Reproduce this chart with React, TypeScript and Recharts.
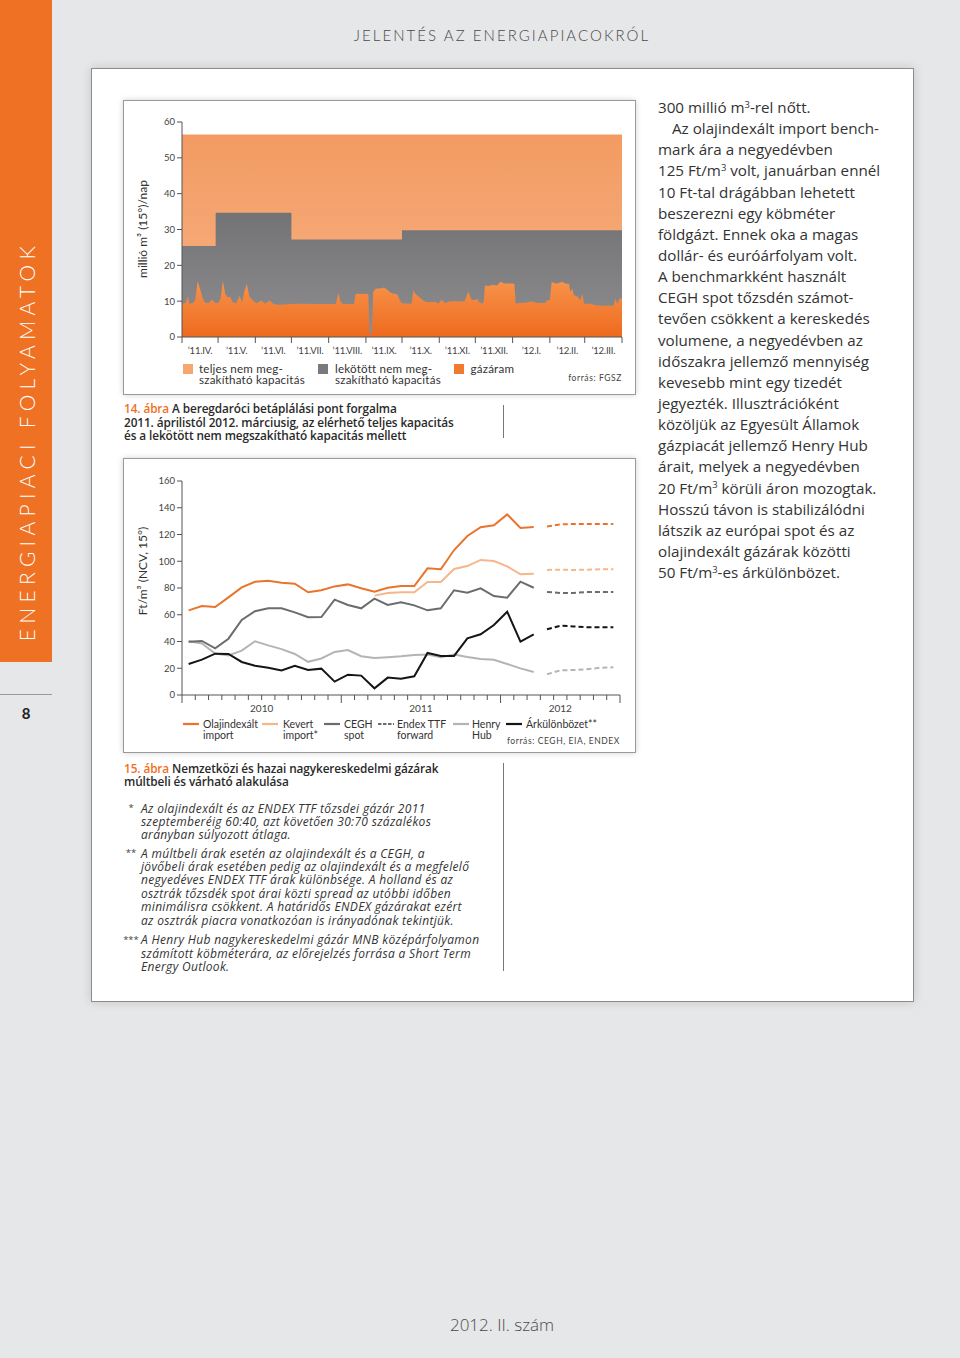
import React from 'react';
import { AreaChart, Area, LineChart, Line, XAxis, YAxis } from 'recharts';

// 14. ábra: Beregdaróc, 2011.IV.1-től (nap), millió m3/nap
const flowDay = [
  0, 3, 5, 6, 9, 11, 13, 15, 17, 19, 22, 25, 27, 30, 32, 34, 36, 38, 40, 42, 45, 48, 50, 52, 54, 56,
  59, 62, 66, 69, 73, 76, 80, 86, 90, 100, 110, 120, 128, 130, 132, 134, 143, 144.5, 155, 156, 158,
  159, 161, 166, 168, 170, 173, 176, 179, 181, 183, 191, 192.5, 194, 197, 200, 203, 211, 213, 216,
  219, 222, 228, 235, 238, 241, 244, 245.5, 247, 250, 251, 252, 255, 258, 262, 265, 268, 275, 276.5,
  277.5, 280, 287, 290, 293, 296, 302, 304, 306, 307.5, 310, 313, 316, 319, 322, 323, 324.5, 326, 329,
  331.5, 333, 334.5, 340, 342.5, 345, 352, 359, 360.5, 362, 364, 366,
];
const flowValue = [
  9.3, 9.5, 11.4, 9.3, 9.5, 10.2, 15.6, 13.5, 11.0, 9.6, 9.4, 10.5, 9.6, 9.4, 10.6, 15.6, 12.0, 11.0,
  11.2, 9.8, 9.4, 11.5, 9.6, 13.0, 14.8, 11.4, 10.2, 9.4, 10.2, 9.3, 10.2, 9.2, 9.0, 9.1, 9.2, 9.3,
  9.2, 9.2, 9.2, 12.3, 9.8, 9.2, 9.2, 12.1, 12.0, 1.0, 1.0, 12.5, 13.5, 13.6, 13.8, 13.4, 12.5, 12.1,
  11.9, 10.3, 9.4, 9.3, 13.0, 12.1, 11.2, 10.3, 9.8, 9.8, 9.3, 10.4, 9.4, 9.9, 10.0, 9.9, 12.6, 10.3,
  10.4, 10.7, 9.8, 9.3, 10.0, 14.4, 14.2, 14.5, 14.4, 15.4, 14.9, 14.9, 14.8, 9.3, 9.5, 9.6, 9.9,
  9.8, 9.5, 9.5, 10.3, 10.2, 15.4, 14.9, 15.0, 15.4, 14.9, 14.8, 12.6, 13.5, 11.7, 11.2, 10.3, 12.1,
  9.3, 9.3, 9.0, 8.8, 8.7, 8.7, 10.7, 9.3, 10.7, 10.8,
];
const bookedStart = [0, 28, 91, 183];
const bookedValue = [25.4, 34.7, 27.2, 29.8];
const totalCapacity = 56.5;
const monthEdges = [0, 30, 61, 91, 122, 153, 183, 214, 244, 275, 306, 335, 366];
const monthLabels = [
  '’11.IV.', '’11.V.', '’11.VI.', '’11.VII.', '’11.VIII.', '’11.IX.',
  '’11.X.', '’11.XI.', '’11.XII.', '’12.I.', '’12.II.', '’12.III.',
];

// 15. ábra: havi árak 2010.I – 2012.III, előrejelzés 2012.IV – 2012.IX (Ft/m3)
const olajindexalt = [
  63.3, 66.5, 65.8, 73, 80.5, 84.7, 85.5, 84, 83.2, 76.8, 78.3, 81.2, 82.7, 79.8, 77.3, 80.2, 81.5,
  81.5, 94.7, 94, 108.4, 118.9, 125.4, 126.9, 135, 124.9, 125.6,
];
const kevert = [
  null, null, null, null, null, null, null, null, null, null, null, null, null, null,
  74.3, 76.3, 76.8, 76.8, 84.5, 84.5, 94.2, 96.4, 101, 100.2, 96.2, 90.2, 90.7,
];
const cegh = [
  39.9, 40.4, 34.9, 42.1, 56.1, 62.6, 64.8, 64.8, 61.8, 58.1, 58.3, 71.3, 67.3, 64.8, 72, 67.3, 69.3,
  67, 63.3, 64.8, 78.3, 76.5, 79.8, 74, 72.8, 84.7, 80.2,
];
const henryHub = [
  40.2, 38.5, 31, 29.6, 33.2, 40.2, 37.1, 34.3, 30.7, 24.8, 27.3, 32.2, 33.6, 29, 27.7, 28.2, 28.9,
  29.9, 30.2, 28.2, 30.2, 28.4, 26.9, 26.4, 23.2, 19.9, 17.2,
];
const arkulonbozet = [
  23.2, 26.4, 30.9, 30.7, 24.7, 21.9, 20.4, 18.4, 21.9, 18.7, 19.7, 10, 15.2, 14.5, 5, 13, 12.2, 14,
  31.4, 29.2, 29.2, 42.4, 45.4, 52.3, 62.3, 39.9, 45.4,
];
const olajForecast = [125.9, 127.6, 127.8, 127.8, 127.8, 127.8];
const kevertForecast = [93.5, 93.7, 93.5, 93.7, 94, 94];
const endexForecast = [77, 76.3, 76.3, 77, 77, 77];
const henryForecast = [15.5, 18.4, 18.7, 19.2, 20.4, 20.7];
const arkForecast = [49.1, 51.8, 51.3, 50.6, 50.6, 50.6];
const years = ['2010', '2011', '2012'];
const yearStart = [0, 12, 24];
const monthCount = 33;

// ---- tables built from the arrays ----
const stepAt = (day: number) => {
  let v = bookedValue[0];
  bookedStart.forEach((s, i) => { if (day >= s) v = bookedValue[i]; });
  return v;
};
const areaDays = Array.from(new Set([...flowDay, ...bookedStart, 366])).sort((a, b) => a - b);
const areaData = areaDays.map((d) => {
  const fi = flowDay.indexOf(d);
  return { day: d, total: totalCapacity, booked: stepAt(d), flow: fi >= 0 ? flowValue[fi] : null };
});
const monthMid = monthLabels.map((_, i) => (monthEdges[i] + monthEdges[i + 1]) / 2);
const areaTicks = [...monthEdges, ...monthMid].sort((a, b) => a - b);

const hist = olajindexalt.length;
const priceData = Array.from({ length: monthCount }, (_, i) => ({
  x: i + 0.5,
  olaj: i < hist ? olajindexalt[i] : null,
  kevert: i < hist ? kevert[i] : null,
  cegh: i < hist ? cegh[i] : null,
  henry: i < hist ? henryHub[i] : null,
  ark: i < hist ? arkulonbozet[i] : null,
  olajF: i >= hist ? olajForecast[i - hist] : null,
  kevertF: i >= hist ? kevertForecast[i - hist] : null,
  endexF: i >= hist ? endexForecast[i - hist] : null,
  henryF: i >= hist ? henryForecast[i - hist] : null,
  arkF: i >= hist ? arkForecast[i - hist] : null,
}));
const yearMid = yearStart.map((s, i) => (s + (yearStart[i + 1] ?? monthCount)) / 2);
const priceTicks = Array.from(new Set([...Array.from({ length: monthCount + 1 }, (_, i) => i), ...yearMid])).sort((a, b) => a - b);

const ORANGE = '#EF7123';
const C_OLAJ = '#E8752B';
const C_KEVERT = '#F6B68C';
const C_CEGH = '#6B6C6F';
const C_HENRY = '#B4B4B4';
const C_ARK = '#151515';
const AXIS = '#555';
const FONT = 'Lato, "Open Sans", sans-serif';
const BODY = '"Open Sans", Lato, sans-serif';

const renderAreaTick = (props: any) => {
  const { x, y, payload } = props;
  const v = payload.value;
  if (monthEdges.includes(v)) {
    return <line x1={x} x2={x} y1={y} y2={y + 6} stroke={AXIS} strokeWidth={1} />;
  }
  const m = monthMid.indexOf(v);
  return (
    <text x={x} y={y + 13} textAnchor="middle" dominantBaseline="central" fontSize={9.5} fill="#444" fontFamily={FONT} letterSpacing={-0.2}>
      {monthLabels[m]}
    </text>
  );
};

const renderYearTick = (props: any) => {
  const { x, y, payload } = props;
  const v = payload.value;
  const yi = yearMid.indexOf(v);
  const isEdge = Number.isInteger(v);
  const major = v === 0 || v === monthCount || yearStart.includes(v);
  return (
    <g>
      {isEdge && <line x1={x} x2={x} y1={y} y2={y + (major ? 8 : 5)} stroke={AXIS} strokeWidth={1} />}
      {yi >= 0 && (
        <text x={x} y={y + 13} textAnchor="middle" dominantBaseline="central" fontSize={10} fill="#444" fontFamily={FONT}>
          {years[yi]}
        </text>
      )}
    </g>
  );
};

const Txt = ({ x, y, size = 11, lh, children, style }: any) => {
  const h = lh ?? Math.round(size * 1.3);
  return (
    <div style={{ position: 'absolute', left: x, top: y - h / 2, fontSize: size, lineHeight: `${h}px`, whiteSpace: 'nowrap', ...style }}>
      {children}
    </div>
  );
};

const Sup = ({ children }: any) => (
  <span style={{ fontSize: '0.62em', position: 'relative', top: '-0.55em' }}>{children}</span>
);

const Swatch = ({ x, y, color }: any) => (
  <div style={{ position: 'absolute', left: x, top: y, width: 10, height: 10, background: color }} />
);

const LineSwatch = ({ x, y, color, dashed }: any) => (
  <svg style={{ position: 'absolute', left: x, top: y - 2 }} width={16} height={4}>
    <line x1={0} x2={16} y1={2} y2={2} stroke={color} strokeWidth={2.2} strokeDasharray={dashed ? '3.5 1.5' : undefined} />
  </svg>
);

const RotLabel = ({ x, y, size, children }: any) => (
  <div style={{ position: 'absolute', left: x, top: y - 10, width: 0, height: 20 }}>
    <div style={{ position: 'absolute', left: -90, top: 0, width: 180, textAlign: 'center', fontSize: size, lineHeight: '20px', transform: 'rotate(-90deg)', whiteSpace: 'nowrap', color: '#333' }}>
      {children}
    </div>
  </div>
);

// two-line legend text, first line centred on y
const Legend2 = ({ x, y, size, lh, a, b, ls = 0 }: any) => (
  <div style={{ position: 'absolute', left: x, top: y - lh / 2, fontSize: size, lineHeight: `${lh}px`, whiteSpace: 'nowrap', letterSpacing: ls }}>
    {a}
    {b && <br />}
    {b}
  </div>
);

const rightLines: React.ReactNode[] = [
  <>300 millió m<Sup>3</Sup>-rel nőtt.</>,
  <span style={{ paddingLeft: 14 }}>Az olajindexált import bench-</span>,
  <>mark ára a negyedévben</>,
  <>125 Ft/m<Sup>3</Sup> volt, januárban ennél</>,
  <>10 Ft-tal drágábban lehetett</>,
  <>beszerezni egy köbméter</>,
  <>földgázt. Ennek oka a magas</>,
  <>dollár- és euróárfolyam volt.</>,
  <>A benchmarkként használt</>,
  <>CEGH spot tőzsdén számot-</>,
  <>tevően csökkent a kereskedés</>,
  <>volumene, a negyedévben az</>,
  <>időszakra jellemző mennyiség</>,
  <>kevesebb mint egy tizedét</>,
  <>jegyezték. Illusztrációként</>,
  <>közöljük az Egyesült Államok</>,
  <>gázpiacát jellemző Henry Hub</>,
  <>árait, melyek a negyedévben</>,
  <>20 Ft/m<Sup>3</Sup> körüli áron mozogtak.</>,
  <>Hosszú távon is stabilizálódni</>,
  <>látszik az európai spot és az</>,
  <>olajindexált gázárak közötti</>,
  <>50 Ft/m<Sup>3</Sup>-es árkülönbözet.</>,
];

const footnotes: { mark: string; lines: string[] }[] = [
  {
    mark: '*',
    lines: [
      'Az olajindexált és az ENDEX TTF tőzsdei gázár 2011',
      'szeptemberéig 60:40, azt követően 30:70 százalékos',
      'arányban súlyozott átlaga.',
    ],
  },
  {
    mark: '**',
    lines: [
      'A múltbeli árak esetén az olajindexált és a CEGH, a',
      'jövőbeli árak esetében pedig az olajindexált és a megfelelő',
      'negyedéves ENDEX TTF árak különbsége. A holland és az',
      'osztrák tőzsdék spot árai közti spread az utóbbi időben',
      'minimálisra csökkent. A határidős ENDEX gázárakat ezért',
      'az osztrák piacra vonatkozóan is irányadónak tekintjük.',
    ],
  },
  {
    mark: '***',
    lines: [
      'A Henry Hub nagykereskedelmi gázár MNB középárfolyamon',
      'számított köbméterára, az előrejelzés forrása a Short Term',
      'Energy Outlook.',
    ],
  },
];
const footStarts = [808.3, 853.3, 940];

const boxStyle: React.CSSProperties = {
  position: 'absolute',
  width: 513,
  height: 295,
  boxSizing: 'border-box',
  border: '1px solid #9a9a9a',
  background: '#fff',
  boxShadow: '0 0 6px rgba(0,0,0,0.18)',
};

const capStyle: React.CSSProperties = { fontFamily: BODY, fontWeight: 600, color: '#2a2a2a', letterSpacing: -0.1 };

export default function App() {
  return (
    <div style={{ position: 'absolute', left: 0, top: 0, width: 960, height: 1358, background: '#E6E7E8', overflow: 'hidden', fontFamily: FONT, color: '#333' }}>
      {/* oldalsáv */}
      <div style={{ position: 'absolute', left: 0, top: 0, width: 52, height: 662, background: ORANGE }} />
      <div style={{ position: 'absolute', left: 27 - 240, top: 441 - 14, width: 480, height: 28, lineHeight: '28px', transform: 'rotate(-90deg)', textAlign: 'center', color: '#fff', fontSize: 21, fontWeight: 300, letterSpacing: 5.3, whiteSpace: 'nowrap' }}>
        ENERGIAPIACI FOLYAMATOK
      </div>
      <div style={{ position: 'absolute', left: 0, top: 694, width: 52, height: 1, background: '#9a9a9a' }} />
      <Txt x={0} y={713} size={15} style={{ width: 52, textAlign: 'center', fontWeight: 700, color: '#222' }}>8</Txt>

      <Txt x={0} y={35} size={15} style={{ width: 1004, textAlign: 'center', fontWeight: 300, letterSpacing: 2.05, color: '#4a4a4a' }}>
        JELENTÉS AZ ENERGIAPIACOKRÓL
      </Txt>

      {/* fehér panel */}
      <div style={{ position: 'absolute', left: 91, top: 68, width: 823, height: 934, background: '#fff', boxSizing: 'border-box', border: '1px solid #8c8c8c', boxShadow: '0 0 10px rgba(0,0,0,0.15)' }} />

      {/* 14. ábra */}
      <div style={{ ...boxStyle, left: 123, top: 100 }} />
      <div style={{ position: 'absolute', left: 123, top: 100 }}>
        <AreaChart width={513} height={295} data={areaData} margin={{ top: 22, right: 14, bottom: 38, left: 0 }}>
          <defs>
            <linearGradient id="gTotal" x1="0" y1="0" x2="0" y2="1">
              <stop offset="0%" stopColor="#F39B62" />
              <stop offset="100%" stopColor="#F7B285" />
            </linearGradient>
            <linearGradient id="gBooked" x1="0" y1="0" x2="0" y2="1">
              <stop offset="0%" stopColor="#737375" />
              <stop offset="100%" stopColor="#8E8E90" />
            </linearGradient>
            <linearGradient id="gFlow" x1="0" y1="0" x2="0" y2="1">
              <stop offset="0%" stopColor="#F7934A" />
              <stop offset="100%" stopColor="#EE6A1E" />
            </linearGradient>
          </defs>
          <XAxis
            dataKey="day"
            type="number"
            domain={[0, 366]}
            ticks={areaTicks}
            interval={0}
            allowDataOverflow
            tickSize={0}
            tickMargin={0}
            tickLine={false}
            axisLine={{ stroke: AXIS }}
            tick={renderAreaTick}
            height={20}
          />
          <YAxis
            domain={[0, 60]}
            ticks={[0, 10, 20, 30, 40, 50, 60]}
            interval={0}
            width={59}
            tickSize={5}
            tickMargin={2}
            axisLine={{ stroke: AXIS }}
            tickLine={{ stroke: AXIS }}
            tick={{ fontSize: 9.5, fill: '#444', fontFamily: FONT }}
          />
          <Area type="linear" dataKey="total" stroke="none" fill="url(#gTotal)" fillOpacity={1} isAnimationActive={false} />
          <Area type="stepAfter" dataKey="booked" stroke="none" fill="url(#gBooked)" fillOpacity={1} isAnimationActive={false} />
          <Area type="linear" dataKey="flow" connectNulls stroke="none" fill="url(#gFlow)" fillOpacity={1} isAnimationActive={false} />
        </AreaChart>
      </div>
      <RotLabel x={143} y={229} size={12}>millió m³ (15°)/nap</RotLabel>
      <Swatch x={183} y={364} color="#F6A670" />
      <Legend2 x={199} y={368.5} size={11.6} lh={11} ls={0.2} a="teljes nem meg-" b="szakítható kapacitás" />
      <Swatch x={318} y={364} color="#7A7A7C" />
      <Legend2 x={335} y={368.5} size={11.6} lh={11} ls={0.2} a="lekötött nem meg-" b="szakítható kapacitás" />
      <Swatch x={454} y={364} color="#F07A30" />
      <Legend2 x={470.5} y={368.5} size={11.6} lh={11} ls={0.2} a="gázáram" />
      <Txt x={522} y={378.5} size={8.5} style={{ width: 100, textAlign: 'right', letterSpacing: 0.6, color: '#444' }}>forrás: FGSZ</Txt>

      <Txt x={124} y={408.3} size={11.8} lh={14} style={capStyle}>
        <span style={{ color: ORANGE }}>14. ábra</span> A beregdaróci betáplálási pont forgalma
      </Txt>
      <Txt x={124} y={422.3} size={11.8} lh={14} style={capStyle}>
        2011. áprilistól 2012. márciusig, az elérhető teljes kapacitás
      </Txt>
      <Txt x={124} y={436} size={11.8} lh={13.5} style={capStyle}>
        és a lekötött nem megszakítható kapacitás mellett
      </Txt>
      <div style={{ position: 'absolute', left: 503, top: 405, width: 1, height: 33, background: '#777' }} />

      {/* 15. ábra */}
      <div style={{ ...boxStyle, left: 123, top: 458 }} />
      <div style={{ position: 'absolute', left: 123, top: 458 }}>
        <LineChart width={513} height={295} data={priceData} margin={{ top: 23, right: 16, bottom: 38, left: 0 }}>
          <XAxis
            dataKey="x"
            type="number"
            domain={[0, monthCount]}
            ticks={priceTicks}
            interval={0}
            allowDataOverflow
            tickSize={0}
            tickMargin={0}
            tickLine={false}
            axisLine={{ stroke: AXIS }}
            tick={renderYearTick}
            height={20}
          />
          <YAxis
            domain={[0, 160]}
            ticks={[0, 20, 40, 60, 80, 100, 120, 140, 160]}
            interval={0}
            width={59}
            tickSize={5}
            tickMargin={2}
            axisLine={{ stroke: AXIS }}
            tickLine={{ stroke: AXIS }}
            tick={{ fontSize: 9.5, fill: '#444', fontFamily: FONT }}
          />
          <Line dataKey="henry" stroke={C_HENRY} strokeWidth={2} dot={false} isAnimationActive={false} />
          <Line dataKey="henryF" stroke={C_HENRY} strokeWidth={2} strokeDasharray="5 3" dot={false} isAnimationActive={false} />
          <Line dataKey="cegh" stroke={C_CEGH} strokeWidth={2} dot={false} isAnimationActive={false} />
          <Line dataKey="endexF" stroke={C_CEGH} strokeWidth={2} strokeDasharray="5 3" dot={false} isAnimationActive={false} />
          <Line dataKey="kevert" stroke={C_KEVERT} strokeWidth={2} dot={false} isAnimationActive={false} />
          <Line dataKey="kevertF" stroke={C_KEVERT} strokeWidth={2} strokeDasharray="5 3" dot={false} isAnimationActive={false} />
          <Line dataKey="olaj" stroke={C_OLAJ} strokeWidth={2} dot={false} isAnimationActive={false} />
          <Line dataKey="olajF" stroke={C_OLAJ} strokeWidth={2} strokeDasharray="5 3" dot={false} isAnimationActive={false} />
          <Line dataKey="ark" stroke={C_ARK} strokeWidth={2} dot={false} isAnimationActive={false} />
          <Line dataKey="arkF" stroke={C_ARK} strokeWidth={2} strokeDasharray="5 3" dot={false} isAnimationActive={false} />
        </LineChart>
      </div>
      <RotLabel x={143} y={571} size={12}>Ft/m³ (NCV, 15°)</RotLabel>
      <LineSwatch x={182.5} y={723.5} color={C_OLAJ} />
      <Legend2 x={203} y={724.3} size={10.5} lh={11.4} a="Olajindexált" b="import" />
      <LineSwatch x={262} y={723.5} color={C_KEVERT} />
      <Legend2 x={283} y={724.3} size={10.5} lh={11.4} a="Kevert" b="import*" />
      <LineSwatch x={324} y={723.5} color={C_CEGH} />
      <Legend2 x={344} y={724.3} size={10.5} lh={11.4} a="CEGH" b="spot" />
      <LineSwatch x={377.5} y={723.5} color={C_CEGH} dashed />
      <Legend2 x={397} y={724.3} size={10.5} lh={11.4} a="Endex TTF" b="forward" />
      <LineSwatch x={453} y={723.5} color={C_HENRY} />
      <Legend2 x={472} y={724.3} size={10.5} lh={11.4} a="Henry" b="Hub" />
      <LineSwatch x={506} y={723.5} color={C_ARK} />
      <Legend2 x={526} y={724.3} size={10.5} lh={11.4} a="Árkülönbözet**" />
      <Txt x={470} y={741} size={8.5} style={{ width: 150, textAlign: 'right', letterSpacing: 0.6, color: '#444' }}>forrás: CEGH, EIA, ENDEX</Txt>

      <Txt x={124} y={768.3} size={11.8} lh={13} style={capStyle}>
        <span style={{ color: ORANGE }}>15. ábra</span> Nemzetközi és hazai nagykereskedelmi gázárak
      </Txt>
      <Txt x={124} y={781.5} size={11.8} lh={13} style={capStyle}>
        múltbeli és várható alakulása
      </Txt>
      {footnotes.map((f, k) => (
        <React.Fragment key={f.mark}>
          <Txt x={121} y={footStarts[k]} size={9.5} lh={12} style={{ width: 20, textAlign: 'center', color: '#444', fontFamily: BODY }}>{f.mark}</Txt>
          <div style={{ position: 'absolute', left: 141, top: footStarts[k] - 13.45 / 2, fontSize: 12, lineHeight: '13.45px', whiteSpace: 'nowrap', fontFamily: BODY, fontStyle: 'italic', color: '#333', letterSpacing: 0.32 }}>
            {f.lines.map((l, j) => (
              <React.Fragment key={j}>
                {j > 0 && <br />}
                {l}
              </React.Fragment>
            ))}
          </div>
        </React.Fragment>
      ))}
      <div style={{ position: 'absolute', left: 503, top: 763, width: 1, height: 208, background: '#777' }} />

      {/* jobb hasáb */}
      {rightLines.map((l, i) => (
        <Txt key={i} x={658} y={107 + i * 21.14} size={15.2} lh={20} style={{ color: '#333', fontFamily: BODY }}>{l}</Txt>
      ))}

      <Txt x={0} y={1325} size={17} style={{ width: 1004, textAlign: 'center', fontWeight: 300, color: '#4a4a4a', fontFamily: BODY }}>
        2012. II. szám
      </Txt>
    </div>
  );
}
